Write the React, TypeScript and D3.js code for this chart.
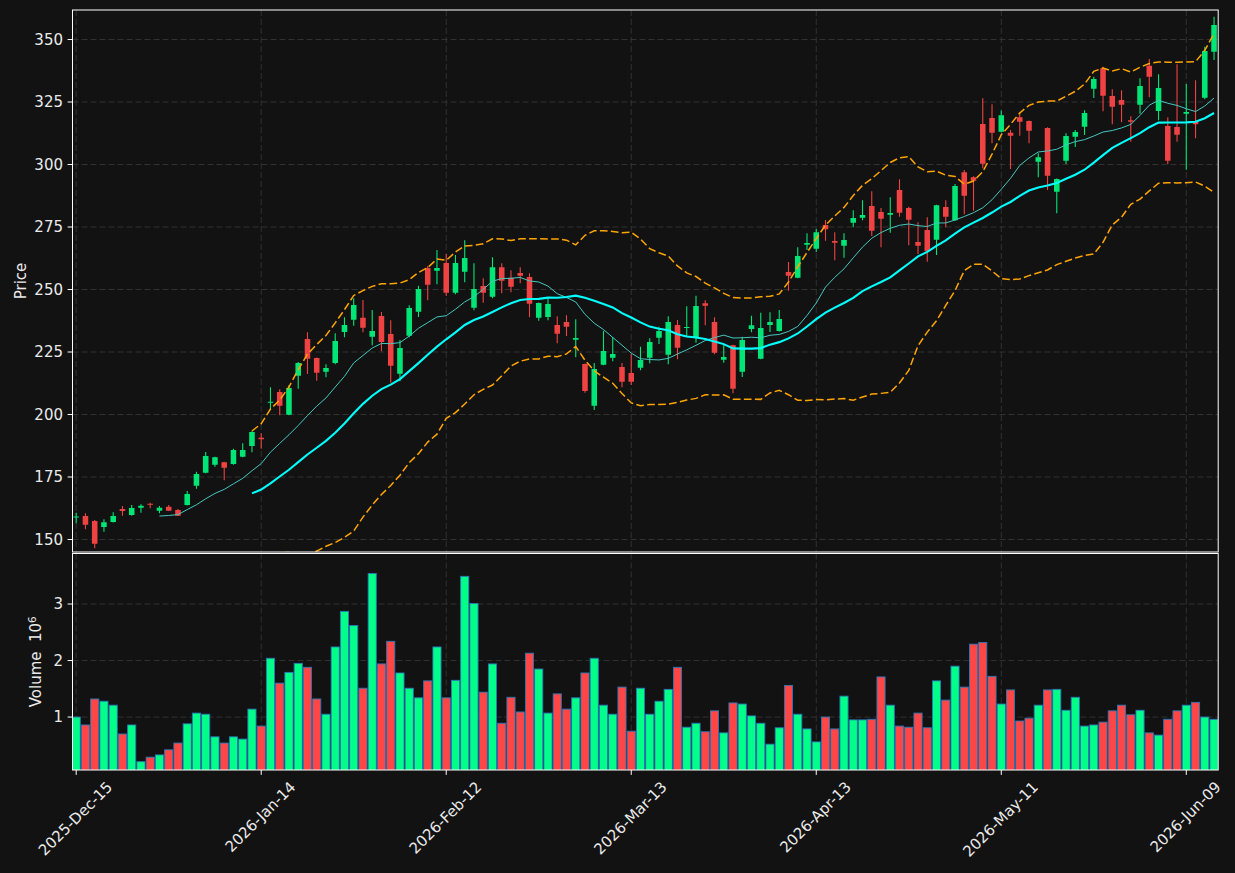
import React, { useEffect, useRef } from "react";
import * as d3 from "d3";

// daily OHLC, volume in millions
const opens = [
  158.9, 159.4, 157.4, 155.0, 157.0, 162.2, 159.8, 162.7, 164.3, 161.5,
  163.1, 161.8, 163.8, 171.5, 176.7, 179.9, 180.9, 180.2, 183.1, 187.4,
  190.7, 204.7, 209.0, 199.9, 215.5, 230.2, 222.6, 217.1, 220.6, 233.0,
  237.9, 238.7, 231.1, 239.4, 232.2, 216.3, 231.5, 241.1, 258.6, 257.5,
  260.6, 248.7, 257.1, 242.7, 251.4, 247.1, 258.9, 254.7, 256.6, 255.0,
  238.7, 239.0, 235.8, 237.0, 229.9, 220.2, 203.5, 219.9, 222.7, 219.0,
  216.6, 218.7, 222.7, 230.7, 223.9, 235.8, 234.6, 230.7, 244.5, 237.0,
  221.9, 227.7, 217.1, 234.2, 222.3, 235.8, 233.4, 257.0, 254.7, 267.9,
  266.3, 275.8, 269.4, 267.5, 276.7, 278.7, 283.4, 281.0, 279.9, 289.8,
  282.6, 269.0, 273.8, 269.9, 283.0, 277.7, 296.9, 294.9, 316.2, 318.6,
  313.1, 312.7, 318.9, 317.4, 301.1, 314.6, 289.1, 301.5, 311.1, 315.1,
  330.3, 338.5, 327.4, 325.8, 317.7, 323.9, 339.5, 321.4, 315.4, 315.0,
  320.3, 317.1, 326.7, 345.1,
];
const highs = [
  160.7, 160.5, 157.8, 158.1, 160.9, 163.4, 163.8, 164.1, 164.7, 163.4,
  163.8, 162.2, 169.4, 177.1, 185.0, 183.1, 181.1, 186.3, 188.5, 193.3,
  192.5, 210.9, 210.1, 211.8, 221.0, 232.9, 222.8, 220.1, 232.5, 238.9,
  246.5, 245.8, 241.8, 241.0, 237.7, 229.8, 243.7, 251.5, 259.4, 265.8,
  264.2, 263.8, 269.7, 260.5, 254.5, 262.9, 260.5, 257.7, 258.9, 256.5,
  244.8, 246.5, 239.3, 239.7, 238.1, 220.4, 220.6, 233.4, 231.0, 220.6,
  224.2, 227.1, 230.5, 235.1, 239.3, 237.8, 243.3, 247.5, 245.7, 238.9,
  227.9, 227.9, 231.1, 239.5, 240.7, 240.9, 241.8, 261.0, 266.9, 272.5,
  274.2, 277.8, 272.9, 272.5, 281.7, 285.7, 289.3, 282.6, 286.9, 294.1,
  283.1, 276.9, 278.9, 283.9, 285.7, 292.2, 297.8, 295.3, 326.5, 324.1,
  321.6, 313.8, 321.0, 317.6, 304.5, 314.9, 294.4, 312.5, 313.8, 321.7,
  335.1, 339.1, 330.1, 329.7, 319.3, 334.5, 342.2, 336.1, 318.9, 340.1,
  332.2, 333.7, 347.1, 359.1,
];
const lows = [
  156.5, 154.1, 146.5, 153.1, 156.8, 159.5, 159.5, 160.7, 162.5, 160.5,
  161.4, 159.4, 163.6, 170.3, 176.5, 179.1, 173.7, 179.9, 182.9, 184.9,
  186.3, 202.1, 199.7, 199.7, 210.3, 216.2, 213.5, 214.9, 220.1, 230.9,
  235.5, 232.9, 227.7, 225.3, 212.7, 213.3, 230.9, 239.0, 245.7, 252.1,
  247.4, 248.1, 252.9, 241.7, 244.7, 246.5, 248.5, 248.9, 252.5, 238.9,
  237.5, 237.7, 228.5, 231.4, 222.9, 208.7, 201.8, 219.7, 221.3, 210.9,
  211.8, 217.7, 220.5, 228.2, 220.1, 222.1, 231.3, 228.7, 235.7, 224.1,
  220.7, 208.5, 215.0, 232.9, 222.1, 233.0, 233.2, 249.5, 254.5, 265.8,
  265.0, 269.5, 261.7, 262.7, 274.9, 277.7, 271.4, 266.9, 272.7, 279.1,
  267.7, 264.2, 261.1, 263.8, 274.9, 277.5, 280.1, 281.5, 298.5, 308.5,
  312.9, 298.2, 311.5, 308.5, 294.9, 289.8, 280.5, 300.2, 307.0, 311.8,
  326.6, 321.3, 316.1, 316.9, 309.1, 320.3, 326.9, 317.7, 300.2, 309.1,
  297.9, 310.5, 326.1, 341.8,
];
const closes = [
  159.2, 155.9, 148.3, 156.9, 159.4, 161.4, 162.6, 163.5, 163.9, 162.7,
  161.5, 159.5, 168.2, 176.2, 183.4, 182.9, 178.7, 185.8, 185.8, 193.0,
  190.1, 205.1, 203.5, 210.6, 220.6, 222.3, 216.7, 218.6, 229.4, 235.8,
  243.8, 234.7, 233.4, 229.0, 219.5, 226.6, 242.6, 250.2, 251.9, 258.6,
  248.7, 260.6, 262.6, 250.2, 248.7, 258.9, 253.5, 251.1, 255.5, 244.3,
  244.6, 244.2, 232.3, 235.1, 230.6, 209.4, 218.2, 225.4, 224.2, 213.1,
  213.1, 221.8, 229.0, 233.4, 237.0, 226.7, 235.0, 243.4, 243.5, 224.7,
  223.0, 210.3, 229.8, 235.7, 234.6, 237.0, 238.2, 255.5, 263.4, 268.6,
  272.9, 274.1, 268.7, 269.8, 278.6, 279.8, 273.5, 278.3, 280.6, 280.7,
  277.9, 267.5, 265.3, 283.7, 279.1, 291.4, 287.5, 293.5, 300.3, 312.7,
  319.7, 311.5, 317.1, 313.5, 302.9, 295.5, 294.2, 311.4, 313.0, 320.6,
  334.2, 327.5, 323.1, 323.9, 317.1, 331.4, 335.1, 330.6, 301.5, 311.9,
  321.0, 316.1, 345.4, 355.8,
];
const volumes = [
  1.00, 0.86, 1.32, 1.28, 1.21, 0.70, 0.86, 0.21, 0.29, 0.33,
  0.42, 0.54, 0.88, 1.07, 1.05, 0.65, 0.54, 0.65, 0.61, 1.14,
  0.84, 2.04, 1.60, 1.79, 1.95, 1.88, 1.32, 1.05, 2.24, 2.87,
  2.62, 1.51, 3.54, 1.94, 2.34, 1.78, 1.51, 1.34, 1.64, 2.24,
  1.34, 1.65, 3.49, 3.01, 1.44, 1.94, 0.89, 1.35, 1.09, 2.13,
  1.85, 1.07, 1.41, 1.14, 1.34, 1.78, 2.04, 1.21, 1.05, 1.53,
  0.75, 1.51, 1.05, 1.28, 1.49, 1.88, 0.82, 0.89, 0.74, 1.11,
  0.72, 1.25, 1.23, 1.02, 0.89, 0.52, 0.81, 1.56, 1.05, 0.79,
  0.56, 1.00, 0.79, 1.37, 0.95, 0.95, 0.96, 1.71, 1.21, 0.84,
  0.82, 1.07, 0.81, 1.64, 1.30, 1.90, 1.53, 2.29, 2.32, 1.72,
  1.23, 1.48, 0.93, 0.98, 1.21, 1.48, 1.49, 1.12, 1.35, 0.84,
  0.86, 0.91, 1.11, 1.21, 1.04, 1.12, 0.72, 0.68, 0.96, 1.11,
  1.21, 1.26, 1.00, 0.96,
];

const tickIdx = [0, 20, 40, 60, 80, 100, 120];
const tickLabels = [
  "2025-Dec-15", "2026-Jan-14", "2026-Feb-12", "2026-Mar-13",
  "2026-Apr-13", "2026-May-11", "2026-Jun-09",
];
const priceTicks = [150, 175, 200, 225, 250, 275, 300, 325, 350];
const volTicks = [1, 2, 3];

const UP = "#00e676";
const DOWN = "#ef4242";
const VUP = "#00ff88";
const VDOWN = "#ff4646";
const BG = "#121212";
const GRID = "#3a3a3a";
const TXT = "#eaeaea";
const FONT = "DejaVu Sans, sans-serif";

function rolling(vals, n, fn) {
  return vals.map((_, i) => (i < n - 1 ? null : fn(vals.slice(i - n + 1, i + 1))));
}

export default function App() {
  const ref = useRef(null);

  useEffect(() => {
    const svg = d3.select(ref.current);
    svg.selectAll("*").remove();

    const left = 72.5, right = 1218.2;
    const pTop = 10, pBot = 552, vTop = 553.5, vBot = 770;
    const n = closes.length;
    const idx = d3.range(n);

    const x = d3.scaleLinear().domain([-0.4, 123.45]).range([left, right]);
    const y = d3.scaleLinear().domain([145.0, 361.8]).range([pBot, pTop]);
    const yv = d3
      .scaleLinear()
      .domain([0.3 * d3.min(volumes), 1.1 * d3.max(volumes)])
      .range([vBot, vTop]);
    const step = x(1) - x(0);

    svg.append("rect").attr("width", 1235).attr("height", 873).attr("fill", BG);

    const defs = svg.append("defs");
    defs.append("clipPath").attr("id", "pclip")
      .append("rect").attr("x", left).attr("y", pTop)
      .attr("width", right - left).attr("height", pBot - pTop);
    defs.append("clipPath").attr("id", "vclip")
      .append("rect").attr("x", left).attr("y", vTop)
      .attr("width", right - left).attr("height", vBot - vTop);

    // grid
    const grid = svg.append("g").attr("stroke", GRID).attr("stroke-width", 0.8)
      .attr("stroke-dasharray", "6,3");
    tickIdx.forEach((t) => {
      grid.append("line").attr("x1", x(t)).attr("x2", x(t)).attr("y1", pTop).attr("y2", pBot);
      grid.append("line").attr("x1", x(t)).attr("x2", x(t)).attr("y1", vTop).attr("y2", vBot);
    });
    priceTicks.forEach((t) => {
      grid.append("line").attr("x1", left).attr("x2", right).attr("y1", y(t)).attr("y2", y(t));
    });
    volTicks.forEach((t) => {
      grid.append("line").attr("x1", left).attr("x2", right).attr("y1", yv(t)).attr("y2", yv(t));
    });

    // candles
    const isUp = (i) => closes[i] >= opens[i];
    const cg = svg.append("g").attr("clip-path", "url(#pclip)");
    const bodyW = step * 0.6;
    cg.selectAll(".wick").data(idx).join("line")
      .attr("x1", (i) => x(i)).attr("x2", (i) => x(i))
      .attr("y1", (i) => y(highs[i])).attr("y2", (i) => y(lows[i]))
      .attr("stroke", (i) => (isUp(i) ? UP : DOWN)).attr("stroke-width", 1.1);
    cg.selectAll(".body").data(idx).join("rect")
      .attr("x", (i) => x(i) - bodyW / 2).attr("width", bodyW)
      .attr("y", (i) => y(Math.max(opens[i], closes[i])))
      .attr("height", (i) => Math.max(1, Math.abs(y(opens[i]) - y(closes[i]))))
      .attr("fill", (i) => (isUp(i) ? UP : DOWN));

    // indicators
    const ma10 = rolling(closes, 10, (s) => d3.mean(s));
    const ma20 = rolling(closes, 20, (s) => d3.mean(s));
    const sd20 = rolling(closes, 20, (s) => d3.deviation(s));
    const upper = idx.map((i) => (ma20[i] == null ? null : ma20[i] + 2 * sd20[i]));
    const lower = idx.map((i) => (ma20[i] == null ? null : ma20[i] - 2 * sd20[i]));

    const line = (arr) =>
      d3.line().defined((i) => arr[i] != null).x((i) => x(i)).y((i) => y(arr[i]))(idx);

    const lg = svg.append("g").attr("clip-path", "url(#pclip)").attr("fill", "none");
    [upper, lower].forEach((arr) => {
      lg.append("path").attr("d", line(arr)).attr("stroke", "#ffa500")
        .attr("stroke-width", 1.5).attr("stroke-dasharray", "7.7,3.3");
    });
    lg.append("path").attr("d", line(ma10)).attr("stroke", "#44c8c0").attr("stroke-width", 1);
    lg.append("path").attr("d", line(ma20)).attr("stroke", "#00ffff").attr("stroke-width", 2.1);

    // volume
    const vg = svg.append("g").attr("clip-path", "url(#vclip)");
    const barW = step * 0.88;
    vg.selectAll(".vbar").data(idx).join("rect")
      .attr("x", (i) => x(i) - barW / 2).attr("width", barW)
      .attr("y", (i) => yv(volumes[i])).attr("height", (i) => vBot - yv(volumes[i]) + 2)
      .attr("fill", (i) => (isUp(i) ? VUP : VDOWN))
      .attr("stroke", "#2a78b8").attr("stroke-width", 0.9);

    // spines
    const sp = svg.append("g").attr("fill", "none").attr("stroke", "#ffffff").attr("stroke-width", 1);
    sp.append("rect").attr("x", left).attr("y", pTop).attr("width", right - left).attr("height", pBot - pTop);
    sp.append("rect").attr("x", left).attr("y", vTop).attr("width", right - left).attr("height", vBot - vTop);

    // y ticks
    const tk = svg.append("g").attr("font-family", FONT).attr("font-size", 15).attr("fill", TXT);
    priceTicks.forEach((t) => {
      tk.append("line").attr("x1", left - 4.9).attr("x2", left).attr("y1", y(t)).attr("y2", y(t))
        .attr("stroke", "#ffffff");
      tk.append("text").attr("x", left - 9.5).attr("y", y(t)).attr("dy", "0.36em")
        .attr("text-anchor", "end").text(t);
    });
    volTicks.forEach((t) => {
      tk.append("line").attr("x1", left - 4.9).attr("x2", left).attr("y1", yv(t)).attr("y2", yv(t))
        .attr("stroke", "#ffffff");
      tk.append("text").attr("x", left - 9.5).attr("y", yv(t)).attr("dy", "0.36em")
        .attr("text-anchor", "end").text(t);
    });

    // x ticks, rotated labels centred under tick like matplotlib
    const asc = 11.5, desc = 3.5;
    tickIdx.forEach((t, k) => {
      tk.append("line").attr("x1", x(t)).attr("x2", x(t)).attr("y1", vBot).attr("y2", vBot + 4.9)
        .attr("stroke", "#ffffff");
      const txt = tk.append("text").attr("text-anchor", "end").text(tickLabels[k]);
      const w = txt.node().getComputedTextLength();
      const ax = x(t) + 0.3536 * (w + asc - desc);
      const ay = vBot + 9.8 + 0.7071 * asc;
      txt.attr("transform", `translate(${ax},${ay}) rotate(-45)`);
    });

    // axis labels
    tk.append("text").attr("transform", `translate(26,${(pTop + pBot) / 2}) rotate(-90)`)
      .attr("text-anchor", "middle").text("Price");
    const vl = tk.append("text")
      .attr("transform", `translate(40.5,${(vTop + vBot) / 2}) rotate(-90)`)
      .attr("text-anchor", "middle")
      .style("white-space", "pre");
    vl.append("tspan").text("Volume  10");
    vl.append("tspan").attr("dy", "-0.45em").attr("font-size", 10.5).text("6");
  }, []);

  return (
    <svg
      ref={ref}
      width={1235}
      height={873}
      style={{ position: "absolute", left: 0, top: 0, display: "block" }}
    />
  );
}
